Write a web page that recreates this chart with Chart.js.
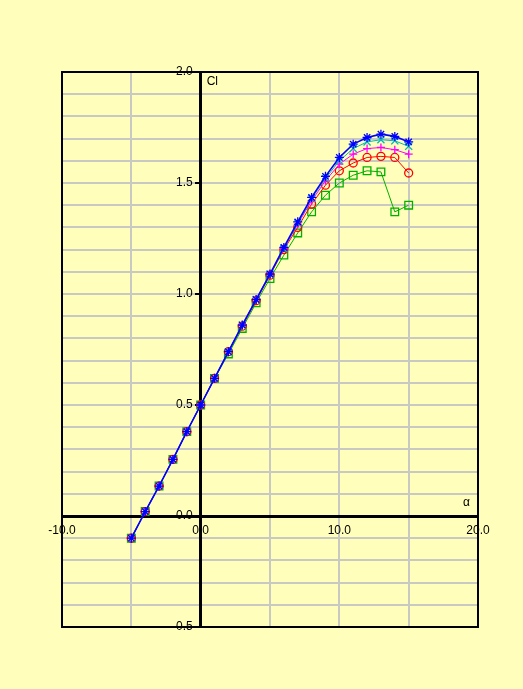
<!DOCTYPE html>
<html>
<head>
<meta charset="utf-8">
<script src="https://cdn.jsdelivr.net/npm/chart.js@4.4.1/dist/chart.umd.min.js"></script>
<style>
  html, body { margin: 0; padding: 0; background: #ffffbb; }
  #wrap { width: 523px; height: 689px; }
</style>
</head>
<body>
<div id="wrap"><canvas id="mainChart" width="523" height="689"></canvas></div>
<script>
// angle of attack (deg)
const alpha = [-5, -4, -3, -2, -1, 0, 1, 2, 3, 4, 5, 6, 7, 8, 9, 10, 11, 12, 13, 14, 15];

// lift coefficient, one list per curve
const clBlue    = [-0.10, 0.02, 0.135, 0.255, 0.38, 0.50, 0.62, 0.74, 0.86, 0.975, 1.09, 1.21, 1.325, 1.435, 1.53, 1.615, 1.675, 1.705, 1.72, 1.71, 1.685];
const clCyan    = [-0.10, 0.02, 0.135, 0.255, 0.38, 0.50, 0.62, 0.74, 0.86, 0.975, 1.09, 1.205, 1.32, 1.43, 1.52, 1.60, 1.655, 1.685, 1.695, 1.69, 1.665];
const clMagenta = [-0.10, 0.02, 0.135, 0.255, 0.38, 0.50, 0.62, 0.74, 0.86, 0.975, 1.09, 1.205, 1.315, 1.42, 1.51, 1.585, 1.63, 1.655, 1.66, 1.65, 1.63];
const clRed     = [-0.10, 0.02, 0.135, 0.255, 0.38, 0.50, 0.62, 0.74, 0.855, 0.97, 1.085, 1.20, 1.30, 1.405, 1.49, 1.555, 1.59, 1.615, 1.62, 1.615, 1.545];
const clGreen   = [-0.10, 0.02, 0.135, 0.255, 0.38, 0.50, 0.62, 0.73, 0.845, 0.96, 1.07, 1.175, 1.275, 1.37, 1.445, 1.50, 1.535, 1.555, 1.55, 1.37, 1.40];

// axis ranges and labelled ticks
const xRange = [-10, 20];
const yRange = [-0.5, 2.0];
const xLabelStep = 10;
const yLabelStep = 0.5;

const FONT = '"Liberation Sans", Arial, sans-serif';

const pts = (ys) => alpha.map((a, i) => ({ x: a, y: ys[i] }));

const isMajor = (v, step) => Math.abs(v / step - Math.round(v / step)) < 1e-6;

const series = [
  { label: 'Cl 1', data: clBlue,    color: '#0000ff', style: 'star',     r: 4.5, w: 1.6 },
  { label: 'Cl 2', data: clCyan,    color: '#00b8b8', style: 'crossRot', r: 5,   w: 1 },
  { label: 'Cl 3', data: clMagenta, color: '#ff00ff', style: 'cross',    r: 4,   w: 1 },
  { label: 'Cl 4', data: clRed,     color: '#ff0000', style: 'circle',   r: 4,   w: 1 },
  { label: 'Cl 5', data: clGreen,   color: '#00b000', style: 'rect',     r: 5.4, w: 1 }
];

// y labels sit left of the centred y axis, the frame is drawn over them
const frameAndTitles = {
  id: 'frameAndTitles',
  afterDraw(chart) {
    const { ctx, chartArea, scales } = chart;
    const x0 = scales.x.getPixelForValue(0);
    ctx.save();
    ctx.fillStyle = '#000';
    ctx.font = '12px ' + FONT;
    ctx.textBaseline = 'middle';
    ctx.textAlign = 'right';
    scales.y.ticks.forEach(t => {
      if (isMajor(t.value, yLabelStep)) ctx.fillText(t.value.toFixed(1), x0 - 8, scales.y.getPixelForValue(t.value));
    });
    ctx.textAlign = 'left';
    ctx.fillText('Cl', x0 + 6, chartArea.top + 10);
    ctx.fillText('α', chartArea.right - 15, scales.y.getPixelForValue(0) - 13);
    ctx.strokeStyle = '#000';
    ctx.lineWidth = 2;
    ctx.strokeRect(chartArea.left, chartArea.top, chartArea.right - chartArea.left, chartArea.bottom - chartArea.top);
    ctx.restore();
  }
};

const ctx = document.getElementById('mainChart').getContext('2d');
const mainChart = new Chart(ctx, {
  type: 'line',
  data: {
    datasets: series.map(s => ({
      label: s.label,
      data: pts(s.data),
      borderColor: s.color,
      backgroundColor: 'rgba(0,0,0,0)',
      borderWidth: s.w,
      pointStyle: s.style,
      pointRadius: s.r,
      pointBorderColor: s.color,
      pointBackgroundColor: 'rgba(0,0,0,0)',
      pointBorderWidth: 1.3,
      tension: 0,
      fill: false
    }))
  },
  options: {
    responsive: false,
    animation: false,
    layout: { padding: { left: 62, top: 72, right: 45, bottom: 62 } },
    plugins: {
      legend: { display: false },
      tooltip: { enabled: false }
    },
    scales: {
      x: {
        type: 'linear',
        position: { y: 0 },
        min: xRange[0],
        max: xRange[1],
        grid: {
          color: '#c9c9c4',
          lineWidth: 2,
          tickLength: 4,
          tickColor: 'rgba(0,0,0,0)'
        },
        border: { color: '#000', width: 3 },
        ticks: {
          stepSize: 5,
          autoSkip: false,
          maxRotation: 0,
          padding: 3,
          color: '#000',
          font: { family: FONT, size: 12 },
          callback: (v) => isMajor(v, xLabelStep) ? v.toFixed(1) : ''
        }
      },
      y: {
        type: 'linear',
        position: { x: 0 },
        min: yRange[0],
        max: yRange[1],
        grid: {
          color: '#c9c9c4',
          lineWidth: 2,
          tickLength: 4,
          tickColor: (c) => isMajor(c.tick.value, yLabelStep) ? '#000' : 'rgba(0,0,0,0)'
        },
        border: { color: '#000', width: 3 },
        ticks: {
          stepSize: 0.1,
          autoSkip: false,
          color: '#000',
          font: { family: FONT, size: 12 },
          callback: () => ''
        }
      }
    }
  },
  plugins: [frameAndTitles]
});
</script>
</body>
</html>
